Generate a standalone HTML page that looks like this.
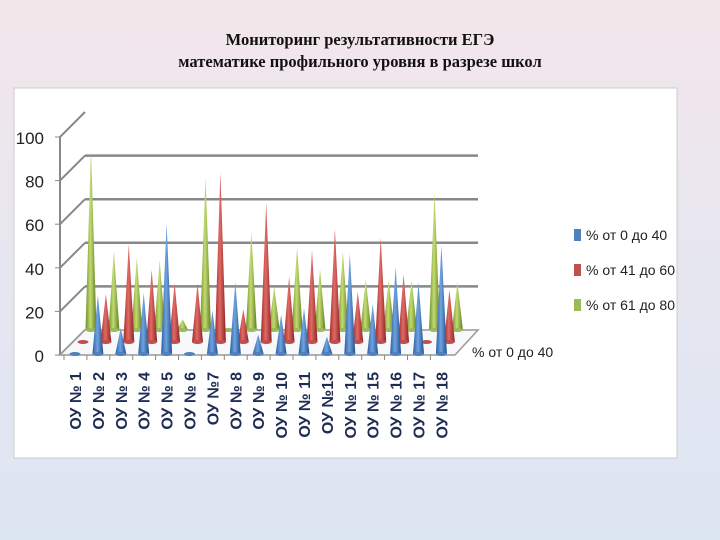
<!DOCTYPE html>
<html><head><meta charset="utf-8"><style>
body{margin:0;width:720px;height:540px;overflow:hidden;background:linear-gradient(#f3e6ea,#e6e6f0 50%,#dde6f3);font-family:"Liberation Sans",sans-serif}
#title{position:absolute;left:0;width:720px;top:29px;text-align:center;font-family:"Liberation Serif","Noto Serif CJK SC",serif;font-weight:bold;font-size:16.5px;line-height:22px;color:#111}
svg{position:absolute;left:0;top:0}
</style></head><body>
<div id="title">Мониторинг результативности ЕГЭ<br>математике профильного уровня в разрезе школ</div>
<svg id="c" width="720" height="540">
<defs>
<linearGradient id="gb" x1="0" x2="1"><stop offset="0" stop-color="#2a5d9e"/><stop offset=".45" stop-color="#6fa3e0"/><stop offset="1" stop-color="#224f8a"/></linearGradient>
<linearGradient id="gr" x1="0" x2="1"><stop offset="0" stop-color="#9e2a28"/><stop offset=".45" stop-color="#e06a66"/><stop offset="1" stop-color="#8a2422"/></linearGradient>
<linearGradient id="gg" x1="0" x2="1"><stop offset="0" stop-color="#6f8d26"/><stop offset=".45" stop-color="#c2dc72"/><stop offset="1" stop-color="#5f7a20"/></linearGradient>
</defs>
<rect x="14" y="88" width="663" height="370" fill="#fff" stroke="#ccc"/>
</svg>
<script>
const categories=["ОУ № 1","ОУ № 2","ОУ № 3","ОУ № 4","ОУ № 5","ОУ № 6","ОУ №7","ОУ № 8","ОУ № 9","ОУ № 10","ОУ № 11","ОУ №13","ОУ № 14","ОУ № 15","ОУ № 16","ОУ № 17","ОУ № 18"];
const s0_40=[0,27,12,28,60,0,20,33,9,18,21,8,46,23,40,33,50];
const s41_60=[0,22,45,33,27,27,78,15,64,30,42,52,23,48,31,0,24];
const s61_80=[83,36,33,32,5,70,0,45,20,38,28,36,23,23,23,63,22];
const yTicks=[0,20,40,60,80,100];
const legendLabels=["% от 0 до 40","% от 41 до 60","% от 61 до 80"];
const NS="http://www.w3.org/2000/svg",svg=document.getElementById('c');
function mk(t,a){const e=document.createElementNS(NS,t);for(const k in a)e.setAttribute(k,a[k]);svg.appendChild(e);return e;}
const X0=75,DX=22.9,K=2.18;
function xPos(i){return X0+i*DX;}
function hPx(v){return v*K;}
for(const t of yTicks){
  const yf=355-hPx(t),yb=330-hPx(t);
  let l=mk('line',{x1:60,y1:yf,x2:85,y2:yb,stroke:'#888','stroke-width':2});
  
  if(t>0&&t<100){l=mk('line',{x1:85,y1:yb,x2:478,y2:yb,stroke:'#888','stroke-width':2.5});
  }
  const tx=mk('text',{x:44,y:yf+7,'text-anchor':'end','font-size':17,fill:'#222'});tx.textContent=t;
  
  mk('line',{x1:55,y1:yf,x2:60,y2:yf,stroke:'#888'});
}
let ax=mk('line',{x1:60,y1:137,x2:60,y2:355,stroke:'#888','stroke-width':2});

let fl=mk('polygon',{points:'60,355 455,355 478,330 85,330',fill:'#f6f8fc',stroke:'#999','stroke-width':1.5});

const series=[[s61_80,'gg',16,330,'green'],[s41_60,'gr',8,342,'red'],[s0_40,'gb',0,354,'blue']];
const cols={gg:'#9bbb59',gr:'#c0504d',gb:'#4f81bd'};
for(const [arr,g,off,base,nm] of series){
  arr.forEach((v,i)=>{
    const cx=xPos(i)+off,tip=base-hPx(v);
    if(v>0){const p=mk('polygon',{points:`${cx-5.5},${base} ${cx+5.5},${base} ${cx},${tip}`,fill:`url(#${g})`});
      }
    const e=mk('ellipse',{cx:cx,cy:base,rx:5.5,ry:2,fill:cols[g]});
    
  });
}
categories.forEach((c,i)=>{
  const x=xPos(i);
  mk('line',{x1:x-11,y1:355,x2:x-11,y2:360,stroke:'#888'});
  const t=mk('text',{x:0,y:0,transform:`translate(${x+6},${372}) rotate(-90)`,'text-anchor':'end','font-size':16,'font-weight':'bold',fill:'#1f2d55'});
  t.textContent=c;
});
let dl=mk('text',{x:472,y:357,'font-size':14,fill:'#222'});dl.textContent=legendLabels[0];

const lc=['#4f81bd','#c0504d','#9bbb59'];
legendLabels.forEach((l,i)=>{
  const y=235+i*35;
  const r=mk('rect',{x:574,y:y-6,width:7,height:12,fill:lc[i]});
  const t=mk('text',{x:586,y:y+5,'font-size':14,fill:'#222'});t.textContent=l;
  
});
</script>
</body></html>
